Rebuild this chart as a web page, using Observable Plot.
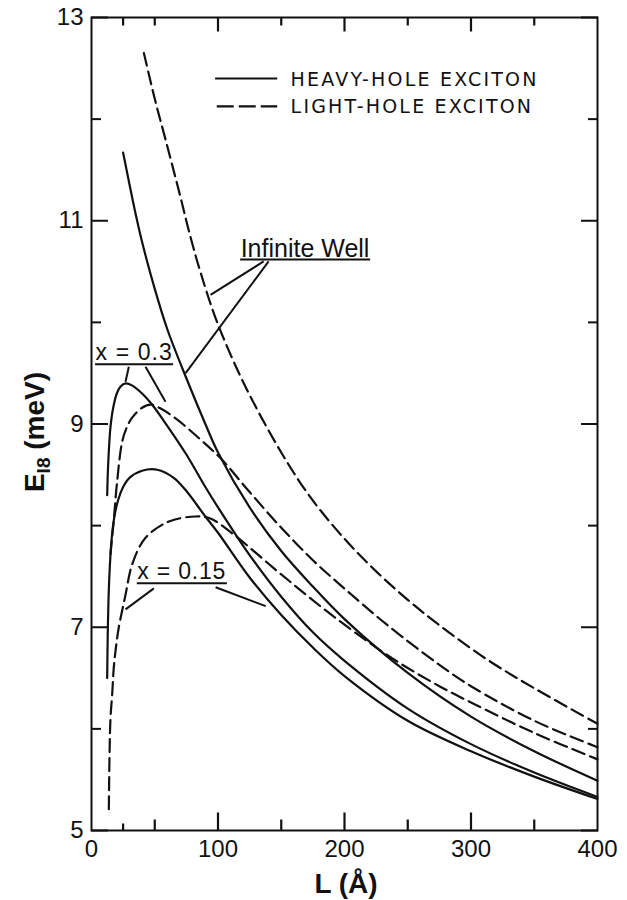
<!DOCTYPE html>
<html>
<head>
<meta charset="utf-8">
<script src="https://cdn.jsdelivr.net/npm/d3@7"></script>
<script src="https://cdn.jsdelivr.net/npm/@observablehq/plot@0.6"></script>
<style>
  html, body { margin: 0; padding: 0; background: #fff; }
  #chart svg { display: block; }
</style>
</head>
<body>
<div id="chart"></div>
<script>
// Exciton binding energy E_1s (meV) versus well width L (Å)

// Heavy-hole exciton, infinite well
const hhInfL = [25, 30, 35, 40, 50, 60, 75, 90, 100, 125, 150, 175, 200, 250, 300, 350, 400];
const hhInfE = [11.67, 11.36, 11.06, 10.79, 10.33, 9.93, 9.45, 9.00, 8.72, 8.18, 7.75, 7.40, 7.08, 6.55, 6.12, 5.78, 5.49];

// Heavy-hole exciton, x = 0.3
const hh03L = [12.4, 13, 14, 15, 17, 20, 23, 27, 32, 40, 48, 60, 75, 90, 100, 125, 150, 175, 200, 250, 300, 350, 400];
const hh03E = [8.30, 8.55, 8.80, 8.97, 9.15, 9.30, 9.37, 9.40, 9.38, 9.30, 9.19, 8.98, 8.70, 8.38, 8.18, 7.71, 7.30, 6.95, 6.67, 6.20, 5.85, 5.57, 5.33];

// Heavy-hole exciton, x = 0.15
const hh015L = [12.4, 12.8, 13.5, 14.5, 16, 18, 21, 25, 30, 40, 52, 65, 75, 90, 100, 125, 150, 175, 200, 250, 300, 350, 400];
const hh015E = [6.50, 6.90, 7.30, 7.60, 7.88, 8.08, 8.25, 8.38, 8.47, 8.54, 8.55, 8.47, 8.34, 8.09, 7.93, 7.49, 7.12, 6.80, 6.52, 6.08, 5.78, 5.53, 5.31];

// Light-hole exciton, infinite well
const lhInfL = [41.4, 50, 58.5, 70, 77, 86, 100, 122, 150, 173, 200, 225, 250, 275, 313, 350, 400];
const lhInfE = [12.65, 12.20, 11.80, 11.25, 10.90, 10.50, 9.98, 9.36, 8.72, 8.28, 7.87, 7.55, 7.27, 7.02, 6.68, 6.40, 6.05];

// Light-hole exciton, x = 0.3
const lh03L = [15, 16, 17.6, 20, 24.3, 28, 32, 40, 47, 55, 66, 85, 103, 125, 150, 175, 200, 234, 275, 300, 350, 400];
const lh03E = [7.72, 7.85, 8.05, 8.40, 8.83, 8.97, 9.06, 9.16, 9.19, 9.15, 9.06, 8.86, 8.65, 8.33, 7.98, 7.66, 7.38, 7.02, 6.63, 6.42, 6.08, 5.82];

// Light-hole exciton, x = 0.15
const lh015L = [13.7, 14.2, 15, 16.4, 17.6, 19.5, 21.6, 26.9, 32.2, 42.7, 61.2, 82.3, 94, 112.6, 150, 192, 237, 275, 300, 350, 400];
const lh015E = [5.21, 5.70, 6.10, 6.35, 6.60, 6.82, 7.00, 7.32, 7.62, 7.88, 8.04, 8.09, 8.07, 7.91, 7.52, 7.10, 6.70, 6.42, 6.26, 5.96, 5.70];

// Axis ticks
const yLabelTicks = [5, 7, 9, 11, 13];
const yMinorTicks = [6, 8, 10, 12];
const xLabelTicks = [0, 100, 200, 300, 400];
const xMajorTicks = [100, 200, 300];
const xMinorTicks = [50, 150, 250, 350];
const xSmallTicks = [25];

// Legend and annotation text
const legendText = ["HEAVY-HOLE EXCITON", "LIGHT-HOLE EXCITON"];
const noteInfinite = "Infinite Well";
const note03 = "x = 0.3";
const note015 = "x = 0.15";

const rows = (L, E, series) => L.map((l, i) => ({L: l, E: E[i], series}));
const heavy = [
  ...rows(hhInfL, hhInfE, "hh-inf"),
  ...rows(hh03L, hh03E, "hh-0.3"),
  ...rows(hh015L, hh015E, "hh-0.15")
];
const light = [
  ...rows(lhInfL, lhInfE, "lh-inf"),
  ...rows(lh03L, lh03E, "lh-0.3"),
  ...rows(lh015L, lh015E, "lh-0.15")
];

const lineW = 2.2;
const dash = "13,6";

// plot frame geometry
const W = 627, H = 900, mL = 91, mR = 30, mT = 17, mB = 70;
const yPerPx = (13 - 5) / (H - mT - mB);

// inward tick segments along the bottom and top edges (lengths in px)
const xTickRows = [
  ...xMajorTicks.map(x => ({x, y1: 5, y2: 5 + 18 * yPerPx})),
  ...xMinorTicks.map(x => ({x, y1: 5, y2: 5 + 11 * yPerPx})),
  ...xSmallTicks.map(x => ({x, y1: 5, y2: 5 + 7 * yPerPx})),
  ...xMajorTicks.map(x => ({x, y1: 13 - 14 * yPerPx, y2: 13})),
  ...[...xSmallTicks, ...xMinorTicks].map(x => ({x, y1: 13 - 8 * yPerPx, y2: 13}))
];

// Leader lines from the underlined notes to the curves
const leaders = [
  {x1: 136.1, y1: 10.60, x2: 94.1, y2: 10.27},
  {x1: 140.0, y1: 10.60, x2: 74.4, y2: 9.50},
  {x1: 29.5, y1: 9.563, x2: 26.9, y2: 9.416},
  {x1: 42.7, y1: 9.563, x2: 58.5, y2: 9.22},
  {x1: 49.3, y1: 7.382, x2: 26.9, y2: 7.176},
  {x1: 98.1, y1: 7.394, x2: 137.7, y2: 7.208}
];
const underlines = [
  {x1: 117.9, x2: 220.7, y: 10.618},
  {x1: 3.2, x2: 64.9, y: 9.588},
  {x1: 36.2, x2: 107.4, y: 7.434}
];

const plot = Plot.plot({
  width: W,
  height: H,
  marginLeft: mL,
  marginRight: mR,
  marginTop: mT,
  marginBottom: mB,
  style: {fontFamily: "'Liberation Sans', Arial, sans-serif", background: "#fff", color: "#111"},
  x: {domain: [0, 400]},
  y: {domain: [5, 13]},
  marks: [
    // curves
    Plot.line(heavy, {x: "L", y: "E", z: "series", stroke: "#111", strokeWidth: lineW, curve: "catmull-rom"}),
    Plot.line(light, {x: "L", y: "E", z: "series", stroke: "#111", strokeWidth: lineW, strokeDasharray: dash, curve: "catmull-rom"}),

    // frame and inward ticks
    Plot.frame({stroke: "#111", strokeWidth: 2}),
    Plot.axisY({anchor: "left", ticks: yLabelTicks, tickSize: -17, strokeWidth: 2, fill: "none", label: null}),
    Plot.axisY({anchor: "left", ticks: yMinorTicks, tickSize: -10, strokeWidth: 2, fill: "none", label: null}),
    Plot.axisY({anchor: "right", ticks: yLabelTicks, tickSize: -17, strokeWidth: 2, fill: "none", label: null}),
    Plot.axisY({anchor: "right", ticks: yMinorTicks, tickSize: -10, strokeWidth: 2, fill: "none", label: null}),
    Plot.link(xTickRows, {x1: "x", x2: "x", y1: "y1", y2: "y2", stroke: "#111", strokeWidth: 2.2}),

    // tick labels
    Plot.axisY({anchor: "left", ticks: yLabelTicks, tickSize: 0, tickPadding: 8, fontSize: 24, label: null}),
    Plot.axisX({anchor: "bottom", ticks: xLabelTicks, tickSize: 0, tickPadding: 9, fontSize: 24, label: null}),

    // legend
    Plot.ruleY([12.40], {x1: 98.1, x2: 147.2, stroke: "#111", strokeWidth: lineW}),
    Plot.ruleY([12.125], {x1: 99.4, x2: 147.2, stroke: "#111", strokeWidth: lineW, strokeDasharray: "17,5"}),
    Plot.text([legendText[0]], {x: 157.4, y: 12.33, text: d => d, textAnchor: "start", lineAnchor: "bottom",
      fontSize: 19, fontFamily: "'DejaVu Sans', sans-serif", fill: "#111"}),
    Plot.text([legendText[1]], {x: 157.4, y: 12.065, text: d => d, textAnchor: "start", lineAnchor: "bottom",
      fontSize: 19, fontFamily: "'DejaVu Sans', sans-serif", fill: "#111"}),

    // curve notes
    Plot.text([noteInfinite], {x: 117.9, y: 10.643, text: d => d, textAnchor: "start", lineAnchor: "bottom", fontSize: 25, fill: "#111"}),
    Plot.text([note03], {x: 3.2, y: 9.632, text: d => d, textAnchor: "start", lineAnchor: "bottom", fontSize: 23, fill: "#111"}),
    Plot.text([note015], {x: 36.2, y: 7.473, text: d => d, textAnchor: "start", lineAnchor: "bottom", fontSize: 23, fill: "#111"}),
    Plot.ruleY(underlines, {y: "y", x1: "x1", x2: "x2", stroke: "#111", strokeWidth: 2}),
    Plot.link(leaders, {x1: "x1", y1: "y1", x2: "x2", y2: "y2", stroke: "#111", strokeWidth: 2})
  ]
});

const svg = d3.select(plot);

// letter spacing for the lettered legend and notes
svg.selectAll("g[aria-label=text] text").each(function () {
  const t = this.textContent;
  if (t === legendText[0] || t === legendText[1]) this.setAttribute("letter-spacing", "2.2");
  if (t === note03) this.setAttribute("letter-spacing", "1.1");
  if (t === note015) this.setAttribute("letter-spacing", "0.8");
});

// axis titles
const yTitle = svg.append("text")
  .attr("transform", "translate(44,432) rotate(-90)")
  .attr("text-anchor", "middle")
  .attr("font-family", "'Liberation Sans', Arial, sans-serif")
  .attr("font-weight", "bold")
  .attr("font-size", 28)
  .attr("fill", "#111");
yTitle.append("tspan").text("E");
yTitle.append("tspan").attr("font-size", 19).attr("dy", 6).text("I8");
yTitle.append("tspan").attr("dy", -6).text(" (meV)");

svg.append("text")
  .attr("x", 346)
  .attr("y", 893)
  .attr("text-anchor", "middle")
  .attr("font-family", "'Liberation Sans', Arial, sans-serif")
  .attr("font-weight", "bold")
  .attr("font-size", 28)
  .attr("fill", "#111")
  .text("L (Å)");

document.getElementById("chart").append(plot);
</script>
</body>
</html>
